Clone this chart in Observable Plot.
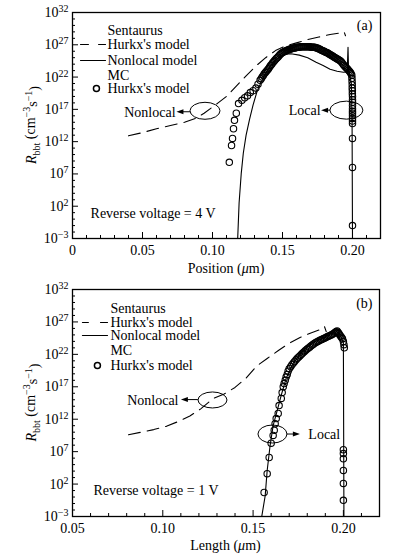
<!DOCTYPE html>
<html><head><meta charset="utf-8">
<script src="https://cdn.jsdelivr.net/npm/d3@7"></script>
<script src="https://cdn.jsdelivr.net/npm/@observablehq/plot@0.6"></script>
<style>
body{margin:0;background:#fff;}
#chart{width:395px;height:560px;}
svg{display:block;}
svg text{font-family:"Liberation Serif","Times New Roman",serif !important;}
</style></head><body><div id="chart"></div>
<script>
// ---------- Panel (a): Reverse voltage = 4 V ----------
const aDashX = [0.040, 0.050, 0.060, 0.070, 0.080, 0.088, 0.094, 0.099, 0.104, 0.110, 0.117, 0.124, 0.131, 0.138, 0.145, 0.152, 0.160, 0.168, 0.176, 0.184, 0.190, 0.194, 0.195];
const aDashLog = [12.9, 13.4, 14.0, 14.5, 15.0, 15.6, 16.4, 17.2, 18.0, 19.0, 20.6, 22.2, 23.7, 25.0, 26.1, 26.8, 27.3, 27.8, 28.2, 28.6, 28.8, 29.0, 28.4];

const aSolidX = [0.118, 0.119, 0.1205, 0.122, 0.124, 0.1265, 0.129, 0.132, 0.136, 0.141, 0.146, 0.151, 0.156, 0.162, 0.168, 0.174, 0.179, 0.184, 0.189, 0.1935, 0.1962, 0.1968, 0.1972, 0.1978, 0.1992, 0.1997, 0.2];
const aSolidLog = [-3, 2.5, 7.0, 10.2, 13.0, 15.5, 17.7, 19.9, 21.8, 23.6, 24.8, 25.5, 25.6, 25.4, 25.0, 24.3, 23.8, 23.2, 22.9, 22.75, 22.8, 26.6, 22.9, 22.6, 21.0, 15.0, -3];

const aMcX = [0.112, 0.1136, 0.1143, 0.115, 0.1157, 0.117, 0.1186, 0.121, 0.123, 0.125, 0.127, 0.129, 0.131, 0.1325,
  0.1340, 0.1348, 0.1355, 0.1363, 0.1370, 0.1378, 0.1385, 0.1393, 0.1400, 0.1408, 0.1415, 0.1423, 0.1430, 0.1438, 0.1445,
  0.1453, 0.1460, 0.1468, 0.1475, 0.1483, 0.1490, 0.1498, 0.1505, 0.1513, 0.1520, 0.1528, 0.1535, 0.1543, 0.1550,
  0.1558, 0.1565, 0.1573, 0.1580, 0.1588, 0.1595, 0.1603, 0.1610, 0.1618, 0.1625, 0.1633, 0.1640, 0.1648, 0.1655,
  0.1663, 0.1670, 0.1678, 0.1685, 0.1693, 0.1700, 0.1708, 0.1715, 0.1723, 0.1730, 0.1738, 0.1745, 0.1753, 0.1760,
  0.1768, 0.1775, 0.1783, 0.1790, 0.1798, 0.1805, 0.1813, 0.1820, 0.1828, 0.1835, 0.1843, 0.1850, 0.1858, 0.1865,
  0.1873, 0.1880, 0.1888, 0.1895, 0.1903, 0.1910, 0.1918, 0.1925, 0.1933, 0.1940, 0.1948, 0.1955, 0.1963, 0.1970,
  0.1978, 0.1985, 0.1990, 0.1995,
  0.1996, 0.1997, 0.1998, 0.1998, 0.1999, 0.1999, 0.2, 0.2, 0.2, 0.2, 0.2, 0.2, 0.2, 0.2, 0.2, 0.2, 0.2, 0.2, 0.2, 0.2];
const aMcLog = [8.8, 11.4, 12.5, 14.0, 15.3, 16.4, 17.9, 18.4, 18.8, 19.1, 19.6, 19.9, 20.3, 20.9,
  21.5, 21.75, 22.0, 22.25, 22.5, 22.7, 22.9, 23.1, 23.3, 23.55, 23.8, 24.0, 24.2, 24.4, 24.6,
  24.8, 24.95, 25.1, 25.3, 25.5, 25.65, 25.75, 25.85, 25.95, 26.0, 26.1, 26.15, 26.25, 26.3,
  26.35, 26.4, 26.45, 26.5, 26.5, 26.55, 26.6, 26.6, 26.6, 26.65, 26.7, 26.7, 26.7, 26.7,
  26.7, 26.7, 26.7, 26.7, 26.7, 26.65, 26.6, 26.6, 26.6, 26.6, 26.55, 26.5, 26.45, 26.35,
  26.3, 26.2, 26.1, 26.05, 26.0, 25.9, 25.8, 25.75, 25.65, 25.55, 25.45, 25.35, 25.25, 25.15,
  25.05, 24.95, 24.85, 24.75, 24.65, 24.55, 24.4, 24.2, 24.0, 23.8, 23.6, 23.45, 23.3, 23.1,
  22.9, 22.7, 22.5, 22.3,
  21.8, 21.3, 20.8, 20.3, 19.9, 19.4, 19.0, 18.5, 18.1, 17.6, 17.1, 16.7, 16.4, 16.0, 15.6, 15.2, 14.8, 12.5, 8.0, -1.0];

// ---------- Panel (b): Reverse voltage = 1 V ----------
const bDashX = [0.081, 0.088, 0.095, 0.102, 0.109, 0.115, 0.121, 0.128, 0.134, 0.140, 0.146, 0.152, 0.158, 0.164, 0.170, 0.176, 0.182, 0.187, 0.1895, 0.1905];
const bDashLog = [9.6, 10.0, 10.4, 10.9, 11.7, 12.5, 13.6, 15.2, 15.9, 16.9, 18.3, 20.2, 21.4, 22.6, 23.7, 24.6, 25.3, 25.8, 26.3, 25.5];

const bSolidX = [0.1548, 0.1567, 0.1578, 0.1594, 0.1611, 0.1633, 0.1656, 0.1683, 0.1722, 0.1767, 0.1822, 0.1878, 0.1933, 0.1958, 0.1985, 0.2, 0.2003];
const bSolidLog = [-3, 0.2, 4.1, 7.9, 11.0, 13.3, 15.7, 18.3, 20.6, 22.3, 23.7, 24.4, 25.2, 25.7, 24.8, 23.8, -3];

const bMcX = [0.1561, 0.1578, 0.1589, 0.1600, 0.1611, 0.1617, 0.1622, 0.1628, 0.1639, 0.1644, 0.1656, 0.1661, 0.1667, 0.1672, 0.1678, 0.1683, 0.1689, 0.1694,
  0.1700, 0.1708, 0.1715, 0.1723, 0.1730, 0.1738, 0.1745, 0.1753, 0.1760, 0.1768, 0.1775, 0.1783, 0.1790, 0.1798, 0.1805, 0.1813,
  0.1820, 0.1828, 0.1835, 0.1843, 0.1850, 0.1858, 0.1865, 0.1873, 0.1880, 0.1888, 0.1895, 0.1903, 0.1910, 0.1918,
  0.1925, 0.1933, 0.1940, 0.1948, 0.1955, 0.1960, 0.1965, 0.1970, 0.1975, 0.1980, 0.1985, 0.1990, 0.1995, 0.2000, 0.2003, 0.2005,
  0.2, 0.2, 0.2, 0.2, 0.2, 0.2];
const bMcLog = [0.7, 3.6, 6.1, 8.3, 9.5, 10.3, 11.3, 12.1, 12.9, 14.1, 15.2, 16.1, 17.0, 17.5, 18.0, 18.5, 18.9, 19.4,
  19.8, 20.1, 20.4, 20.65, 20.9, 21.15, 21.4, 21.6, 21.8, 22.0, 22.2, 22.4, 22.6, 22.8, 22.95, 23.1,
  23.3, 23.45, 23.6, 23.75, 23.85, 24.0, 24.1, 24.2, 24.3, 24.4, 24.5, 24.6, 24.7, 24.8,
  24.9, 25.0, 25.1, 25.25, 25.4, 25.5, 25.6, 25.4, 25.2, 25.0, 24.8, 24.6, 24.4, 24.0, 23.5, 23.0,
  7.3, 6.7, 5.9, 4.1, 2.1, -0.5];

// ---------- Axes ----------
const yTickExps = [-3, 2, 7, 12, 17, 22, 27, 32];
const aXTicks = [0, 0.05, 0.10, 0.15, 0.20];
const bXTicks = [0.05, 0.10, 0.15, 0.20];
const legendLabels = ["Sentaurus", "Hurkx's model", "Nonlocal model", "MC", "Hurkx's model"];

const pts = (xs, ls) => xs.map((x, i) => ({x, y: 10 ** ls[i]}));

function panel(cfg) {
  const W = 395, H = 280;
  const pw = W - cfg.ml - cfg.mr, ph = H - cfg.mt - cfg.mb;
  const [x0, x1] = cfg.xDomain;
  const xMinor = d3.range(Math.round(x0 * 100), Math.round(x1 * 100) + 1).map(v => v / 100)
    .filter(v => !cfg.xTicks.some(t => Math.abs(t - v) < 1e-9));
  const yMajor = yTickExps.map(e => 10 ** e);
  const yMinor = d3.range(-3, 33).filter(e => !yTickExps.includes(e)).map(e => 10 ** e);
  const L = cfg.legend;
  const legendText = legendLabels.map((t, i) => ({x: L.textX, y: 10 ** L.rows[i], t}));
  const txt = anchor => Plot.text(cfg.texts.filter(d => d.anchor === anchor),
    {x: "x", y: d => 10 ** d.y, text: "t", textAnchor: anchor, fontSize: 14, fill: "black"});

  const annot = (index, scales) => {
    const g = d3.create("svg:g").attr("fill", "none").attr("stroke", "black").attr("stroke-width", 1);
    for (const e of cfg.ellipses)
      g.append("ellipse").attr("cx", scales.x(e.x)).attr("cy", scales.y(10 ** e.y)).attr("rx", e.rx).attr("ry", e.ry);
    for (const a of cfg.arrows) {
      const xa = scales.x(a.x1), xb = scales.x(a.x2), y = scales.y(10 ** a.y);
      const dir = Math.sign(xb - xa);
      g.append("line").attr("x1", xa).attr("x2", xb - dir * 4).attr("y1", y).attr("y2", y);
      g.append("path").attr("d", `M${xb},${y}L${xb - dir * 7},${y - 2.5}L${xb - dir * 7},${y + 2.5}Z`)
        .attr("fill", "black").attr("stroke", "none");
    }
    return g.node();
  };

  const svg = Plot.plot({
    width: W, height: H,
    marginLeft: cfg.ml, marginRight: cfg.mr, marginTop: cfg.mt, marginBottom: cfg.mb,
    style: {fontFamily: "'Liberation Serif', serif", fontSize: "14px", background: "white", color: "black"},
    x: {domain: cfg.xDomain},
    y: {type: "log", domain: [1e-3, 1e32]},
    marks: [
      Plot.line(pts(cfg.dashX, cfg.dashLog), {x: "x", y: "y", stroke: "black", strokeWidth: 1.1, strokeDasharray: "12,7", clip: true}),
      Plot.line(pts(cfg.solidX, cfg.solidLog), {x: "x", y: "y", stroke: "black", strokeWidth: 1.1, clip: true}),
      Plot.dot(pts(cfg.mcX, cfg.mcLog), {x: "x", y: "y", r: 3.2, stroke: "black", strokeWidth: 1.1, fill: "none", clip: true}),
      // ticks (inward)
      Plot.ruleX(cfg.xTicks, {x: d => d, insetTop: ph - 6, stroke: "black", strokeWidth: 1}),
      Plot.ruleX(xMinor, {x: d => d, insetTop: ph - 3, stroke: "black", strokeWidth: 1}),
      Plot.ruleY(yMajor, {y: d => d, insetRight: pw - 6, stroke: "black", strokeWidth: 1}),
      Plot.ruleY(yMinor, {y: d => d, insetRight: pw - 3, stroke: "black", strokeWidth: 1}),
      Plot.axisX({ticks: cfg.xTicks, tickSize: 0, tickPadding: 7, label: null,
        tickFormat: d => d === 0 ? "0" : d3.format(".2f")(d), fontSize: 14}),
      Plot.axisY({ticks: yMajor, tickSize: 0, tickPadding: 4, label: null,
        tickFormat: d => "10^" + Math.round(Math.log10(d)), fontSize: 14}),
      Plot.frame({stroke: "black", strokeWidth: 1.3}),
      // legend
      Plot.text(legendText, {x: "x", y: "y", text: "t", textAnchor: "start", fontSize: 14, fill: "black"}),
      Plot.line([{x: L.dash1[0], y: 10 ** L.rows[1]}, {x: L.dash1[1], y: 10 ** L.rows[1]}], {x: "x", y: "y", stroke: "black", strokeWidth: 1.1}),
      Plot.line([{x: L.dash2[0], y: 10 ** L.rows[1]}, {x: L.dash2[1], y: 10 ** L.rows[1]}], {x: "x", y: "y", stroke: "black", strokeWidth: 1.1}),
      Plot.line([{x: L.solid[0], y: 10 ** L.rows[2]}, {x: L.solid[1], y: 10 ** L.rows[2]}], {x: "x", y: "y", stroke: "black", strokeWidth: 1.1}),
      Plot.dot([{x: L.dotX, y: 10 ** L.rows[4]}], {x: "x", y: "y", r: 3, stroke: "black", fill: "none"}),
      // annotations
      txt("start"), txt("end"), txt("middle"),
      annot
    ]
  });

  // superscript tick labels
  d3.select(svg).selectAll('g[aria-label="y-axis tick label"] text').each(function () {
    const s = this.textContent; const m = s.match(/^10\^(.*)$/);
    if (!m) return;
    const t = d3.select(this); t.text("");
    t.append("tspan").text("10");
    t.append("tspan").attr("dy", "-0.5em").attr("font-size", "10px").text(m[1].replace("-", "\u2212"));
  });
  // y label
  const yl = d3.select(svg).append("text").attr("transform", `translate(36,${cfg.mt + ph / 2}) rotate(-90)`)
    .attr("text-anchor", "middle").attr("font-size", 14).attr("fill", "black");
  yl.append("tspan").attr("font-style", "italic").text("R");
  yl.append("tspan").attr("font-size", 10).attr("dy", "0.35em").text("bbt");
  yl.append("tspan").attr("dy", "-0.35em").text(" (cm");
  yl.append("tspan").attr("font-size", 10).attr("dy", "-0.5em").text("\u22123");
  yl.append("tspan").attr("dy", "0.5em").text("s");
  yl.append("tspan").attr("font-size", 10).attr("dy", "-0.5em").text("\u22121");
  yl.append("tspan").attr("dy", "0.5em").text(")");
  // x label
  const xl = d3.select(svg).append("text").attr("x", cfg.ml + pw / 2).attr("y", cfg.xLabelY)
    .attr("text-anchor", "middle").attr("font-size", 14).attr("fill", "black");
  xl.append("tspan").text(cfg.xLabel + " (");
  xl.append("tspan").attr("font-style", "italic").text("\u03bc");
  xl.append("tspan").text("m)");
  return svg;
}

const chart = document.getElementById("chart");
chart.append(panel({
  ml: 72, mr: 15, mt: 12, mb: 42, xDomain: [0, 0.22], xTicks: aXTicks, xLabel: "Position", xLabelY: 273,
  dashX: aDashX, dashLog: aDashLog, solidX: aSolidX, solidLog: aSolidLog, mcX: aMcX, mcLog: aMcLog,
  legend: {textX: 0.025, rows: [29.2, 27.04, 24.57, 22.24, 20.23], dash1: [0.0057, 0.0114], dash2: [0.0186, 0.0236], solid: [0.0057, 0.0236], dotX: 0.0171},
  texts: [
    {x: 0.0736, y: 16.55, t: "Nonlocal", anchor: "end"},
    {x: 0.1772, y: 16.8, t: "Local", anchor: "end"},
    {x: 0.0129, y: 0.87, t: "Reverse voltage = 4 V", anchor: "start"},
    {x: 0.2086, y: 30.0, t: "(a)", anchor: "middle"}
  ],
  ellipses: [{x: 0.095, y: 16.7, rx: 15, ry: 8.5}, {x: 0.196, y: 16.8, rx: 16.5, ry: 9}],
  arrows: [{x1: 0.0843, x2: 0.0746, y: 16.55}, {x1: 0.1843, x2: 0.1779, y: 16.8}]
}));
chart.append(panel({
  ml: 72, mr: 16, mt: 9, mb: 44, xDomain: [0.05, 0.22], xTicks: bXTicks, xLabel: "Length", xLabelY: 270,
  dashX: bDashX, dashLog: bDashLog, solidX: bSolidX, solidLog: bSolidLog, mcX: bMcX, mcLog: bMcLog,
  legend: {textX: 0.071, rows: [29.07, 26.91, 24.91, 22.6, 20.28], dash1: [0.0555, 0.0588], dash2: [0.0655, 0.0694], solid: [0.0555, 0.0694], dotX: 0.0638},
  texts: [
    {x: 0.1087, y: 14.95, t: "Nonlocal", anchor: "end"},
    {x: 0.1806, y: 9.64, t: "Local", anchor: "start"},
    {x: 0.0616, y: 1.0, t: "Reverse voltage = 1 V", anchor: "start"},
    {x: 0.2116, y: 29.84, t: "(b)", anchor: "middle"}
  ],
  ellipses: [{x: 0.1278, y: 14.89, rx: 14.5, ry: 8}, {x: 0.161, y: 9.64, rx: 14.5, ry: 9}],
  arrows: [{x1: 0.1197, x2: 0.1103, y: 14.95}, {x1: 0.169, x2: 0.1762, y: 9.64}]
}));
</script></body></html>
